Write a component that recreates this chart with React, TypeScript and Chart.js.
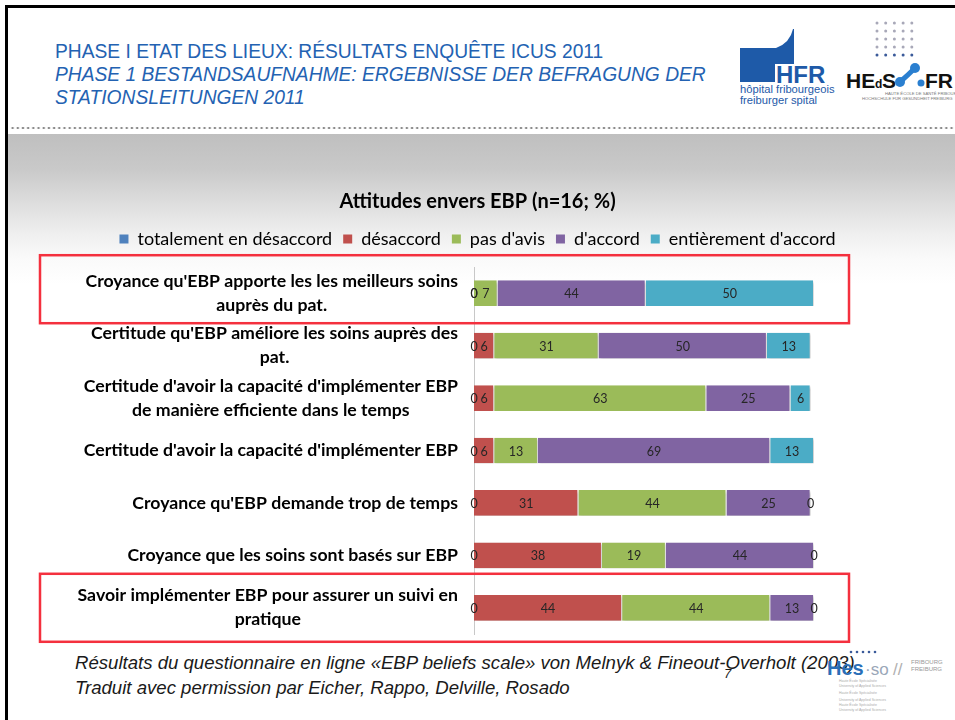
import React, { useEffect, useRef } from "react";
import { Chart, registerables } from "chart.js";

Chart.register(...registerables);

// ---------- data ----------
const categories: string[][] = [
  ["Croyance qu'EBP apporte les les meilleurs soins", "auprès du pat."],
  ["Certitude qu'EBP améliore les soins auprès des", "pat."],
  ["Certitude d'avoir la capacité d'implémenter EBP", "de manière efficiente dans le temps"],
  ["Certitude d'avoir la capacité d'implémenter EBP"],
  ["Croyance qu'EBP demande trop de temps"],
  ["Croyance que les soins sont basés sur EBP"],
  ["Savoir implémenter EBP pour assurer un suivi en", "pratique"],
];
const seriesNames = [
  "totalement en désaccord",
  "désaccord",
  "pas d'avis",
  "d'accord",
  "entièrement d'accord",
];
const totalementEnDesaccord = [0, 0, 0, 0, 0, 0, 0];
const desaccord = [0, 6, 6, 6, 31, 38, 44];
const pasDAvis = [7, 31, 63, 13, 44, 19, 44];
const dAccord = [44, 50, 25, 69, 25, 44, 13];
const entierementDAccord = [50, 13, 6, 13, 0, 0, 0];
const seriesColors = ["#4f81bd", "#c0504d", "#9bbb59", "#8064a2", "#4bacc6"];
const highlightedRows = [0, 6];
const chartTitle = "Attitudes envers EBP (n=16; %)";

const FONT = "Lato, 'Open Sans', sans-serif";

// ---------- plugins ----------
const barDecor = {
  id: "barDecor",
  beforeDatasetsDraw(chart: any) {
    const ctx = chart.ctx;
    ctx.save();
    ctx.shadowColor = "rgba(0,0,0,0.28)";
    ctx.shadowBlur = 3;
    ctx.shadowOffsetX = 1;
    ctx.shadowOffsetY = 1.5;
  },
  afterDatasetsDraw(chart: any) {
    const ctx = chart.ctx;
    ctx.restore();
    ctx.save();
    ctx.font = `12.5px ${FONT}`;
    ctx.fillStyle = "#262626";
    ctx.textAlign = "center";
    ctx.textBaseline = "middle";
    chart.data.datasets.forEach((ds: any, di: number) => {
      const meta = chart.getDatasetMeta(di);
      meta.data.forEach((el: any, i: number) => {
        const p = el.getProps(["x", "base", "y"], true);
        ctx.fillText(String(ds.data[i]), (p.x + p.base) / 2, p.y + 1);
      });
    });
    ctx.restore();
  },
};

const categoryLabels = {
  id: "categoryLabels",
  afterDraw(chart: any) {
    const ctx = chart.ctx;
    const ys = chart.scales.y;
    const right = chart.chartArea.left - 16;
    ctx.save();
    ctx.font = `bold 17.7px ${FONT}`;
    ctx.fillStyle = "#000";
    ctx.textAlign = "center";
    ctx.textBaseline = "middle";
    categories.forEach((lines, i) => {
      const cy = ys.getPixelForValue(i);
      const maxW = Math.max(...lines.map((l) => ctx.measureText(l).width));
      const cx = right - maxW / 2;
      const lh = 24;
      lines.forEach((l, j) => {
        ctx.fillText(l, cx, cy + (j - (lines.length - 1) / 2) * lh);
      });
    });
    ctx.restore();
  },
};

const highlightBoxes = {
  id: "highlightBoxes",
  afterDraw(chart: any) {
    const ctx = chart.ctx;
    const ys = chart.scales.y;
    const ca = chart.chartArea;
    ctx.save();
    ctx.strokeStyle = "#f4303e";
    ctx.lineWidth = 2.5;
    highlightedRows.forEach((r, k) => {
      const cy = ys.getPixelForValue(r);
      const above = k === 0 ? 38 : 34;
      const below = k === 0 ? 30 : 34;
      const left = ca.left - 434;
      const right = ca.right + 35;
      ctx.strokeRect(left, cy - above, right - left, above + below);
    });
    ctx.restore();
  },
};

function BarChart() {
  const ref = useRef<HTMLCanvasElement | null>(null);
  useEffect(() => {
    if (!ref.current) return;
    const values = [totalementEnDesaccord, desaccord, pasDAvis, dAccord, entierementDAccord];
    const chart = new Chart(ref.current, {
      type: "bar",
      data: {
        labels: categories.map((c) => c.join(" ")),
        datasets: values.map((v, i) => ({
          label: seriesNames[i],
          data: v,
          backgroundColor: seriesColors[i],
          borderColor: "#ffffff",
          borderWidth: { top: 0, bottom: 0, left: 0, right: 1 },
          borderSkipped: false,
          barPercentage: 0.49,
          categoryPercentage: 1,
        })),
      },
      options: {
        indexAxis: "y",
        responsive: false,
        animation: false,
        events: [],
        layout: { padding: { top: 0, bottom: 11, left: 0, right: 0 } },
        scales: {
          x: {
            type: "linear",
            stacked: true,
            min: 0,
            max: 101,
            position: "top",
            grid: { display: false },
            border: { display: false },
            ticks: { display: false },
            afterFit: (s: any) => {
              s.height = 9;
            },
          },
          y: {
            type: "category",
            stacked: true,
            position: "left",
            grid: { display: false },
            border: { display: true, color: "#c8c8c8", width: 1 },
            ticks: { display: false },
            afterFit: (s: any) => {
              s.width = 474;
            },
          },
          yRight: {
            type: "category",
            position: "right",
            grid: { display: false },
            border: { display: false },
            ticks: { display: false },
            afterFit: (s: any) => {
              s.width = 141;
            },
          },
        },
        plugins: {
          title: {
            display: true,
            text: chartTitle,
            color: "#000",
            font: { family: FONT, size: 20, weight: "bold" },
            padding: { top: 15, bottom: 5 },
          },
          legend: {
            display: true,
            position: "top",
            labels: {
              boxWidth: 9,
              boxHeight: 9,
              padding: 11,
              color: "#000",
              font: { family: FONT, size: 18 },
              generateLabels: (c: any) =>
                c.data.datasets.map((ds: any, i: number) => ({
                  text: ds.label,
                  fillStyle: ds.backgroundColor,
                  strokeStyle: ds.backgroundColor,
                  lineWidth: 0,
                  hidden: false,
                  datasetIndex: i,
                  fontColor: "#000",
                })),
            },
          },
          tooltip: { enabled: false },
        },
      },
      plugins: [barDecor, categoryLabels, highlightBoxes],
    } as any);
    return () => chart.destroy();
  }, []);
  return (
    <canvas
      ref={ref}
      width={955}
      height={470}
      style={{ position: "absolute", left: 0, top: 175, width: 955, height: 470 }}
    />
  );
}

export default function App() {
  const blue = "#2362b2";
  const arial = "'Liberation Sans', Arial, sans-serif";
  return (
    <div
      style={{
        position: "absolute",
        left: 0,
        top: 0,
        width: 955,
        height: 720,
        overflow: "hidden",
        background: "#fff",
      }}
    >
      {/* gray gradient band */}
      <div
        style={{
          position: "absolute",
          left: 8,
          top: 134,
          width: 947,
          height: 586,
          background:
            "linear-gradient(to bottom, #bfbfbf 0px, #c9c9c9 35px, #dedede 70px, #efefef 100px, #fafafa 125px, #ffffff 150px)",
        }}
      />
      {/* frame */}
      <div
        style={{
          position: "absolute",
          left: 5,
          top: 5,
          width: 980,
          height: 740,
          borderLeft: "3px solid #000",
          borderTop: "3px solid #000",
        }}
      />
      {/* dotted separator */}
      <div
        style={{
          position: "absolute",
          left: 10,
          top: 126,
          width: 945,
          height: 4,
          backgroundImage: "radial-gradient(circle, #8c8c8c 1.1px, transparent 1.5px)",
          backgroundSize: "5.2px 4px",
        }}
      />
      {/* header */}
      <div
        style={{
          position: "absolute",
          left: 55,
          top: 40,
          color: blue,
          fontFamily: arial,
          fontSize: 19.5,
          lineHeight: "23px",
          whiteSpace: "nowrap",
          transform: "scaleX(0.985)",
          transformOrigin: "0 0",
        }}
      >
        <div>PHASE I ETAT DES LIEUX: RÉSULTATS ENQUÊTE ICUS 2011</div>
        <div style={{ fontStyle: "italic" }}>
          PHASE 1 BESTANDSAUFNAHME: ERGEBNISSE DER BEFRAGUNG DER
        </div>
        <div style={{ fontStyle: "italic" }}>STATIONSLEITUNGEN 2011</div>
      </div>
      {/* logos */}
      <svg
        width={225}
        height={110}
        viewBox="0 0 225 110"
        style={{ position: "absolute", left: 730, top: 15 }}
      >
        <path d="M10,33 L46,33 Q60,28 63,14 L64,14 L64,49 L45,49 L45,67 L10,67 Z" fill="#1e5aa8" />
        <text x="46" y="68" fill="#1e5aa8" fontFamily={arial} fontWeight="bold" fontSize="24">
          HFR
        </text>
        <text x="10" y="78" fill="#1e5aa8" fontFamily={arial} fontSize="11.2">
          hôpital fribourgeois
        </text>
        <text x="10" y="89" fill="#1e5aa8" fontFamily={arial} fontSize="11.2">
          freiburger spital
        </text>
        {[0, 1, 2, 3, 4].map((r) =>
          [0, 1, 2, 3, 4].map((c) => (
            <circle
              key={`${r}-${c}`}
              cx={147 + c * 8.7}
              cy={8 + r * 8}
              r={1.5}
              fill={r === 4 ? "#3a5a9a" : "#a8a8b8"}
            />
          ))
        )}
        <text x="116" y="73" fill="#111" fontFamily={arial} fontWeight="bold" fontSize="21">
          HE
        </text>
        <text x="145" y="73" fill="#111" fontFamily={arial} fontWeight="bold" fontSize="12">
          d
        </text>
        <text x="152" y="73" fill="#111" fontFamily={arial} fontWeight="bold" fontSize="21">
          S
        </text>
        <path d="M170,67 Q178,60 184,54" stroke="#2a7fd0" strokeWidth="5" fill="none" />
        <circle cx="170" cy="67" r="5" fill="#2a7fd0" />
        <circle cx="185" cy="53" r="5" fill="#2a7fd0" />
        <circle cx="191" cy="68" r="3.5" fill="#2a7fd0" />
        <text x="195" y="73" fill="#111" fontFamily={arial} fontWeight="bold" fontSize="21">
          FR
        </text>
        <text x="155" y="80" fill="#777" fontFamily={arial} fontSize="4.2">
          HAUTE ÉCOLE DE SANTÉ FRIBOURG
        </text>
        <text x="132" y="85" fill="#777" fontFamily={arial} fontSize="4.2">
          HOCHSCHULE FÜR GESUNDHEIT FREIBURG
        </text>
      </svg>
      <BarChart />
      {/* footer */}
      <div
        style={{
          position: "absolute",
          left: 75,
          top: 649.5,
          fontFamily: arial,
          fontStyle: "italic",
          fontSize: 18.6,
          lineHeight: "25px",
          color: "#1a1a1a",
          whiteSpace: "nowrap",
        }}
      >
        <div>Résultats du questionnaire en ligne «EBP beliefs scale» von Melnyk &amp; Fineout-Overholt (2003)</div>
        <div>Traduit avec permission par Eicher, Rappo, Delville, Rosado</div>
      </div>
      <div
        style={{
          position: "absolute",
          left: 724,
          top: 666,
          fontFamily: arial,
          fontStyle: "italic",
          fontSize: 13,
          color: "#1a1a1a",
        }}
      >
        7
      </div>
      <svg
        width={130}
        height={70}
        viewBox="0 0 130 70"
        style={{ position: "absolute", left: 825, top: 648 }}
      >
        {[0, 1, 2, 3, 4].map((c) => (
          <circle key={c} cx={26 + c * 6} cy={4} r={1.3} fill="#3a5a9a" />
        ))}
        <text x="2" y="27" fill="#2a6fb8" fontFamily={arial} fontWeight="bold" fontSize="20">
          Hes
        </text>
        <text x="40" y="27" fill="#9aa7b8" fontFamily={arial} fontSize="17">
          ·so
        </text>
        <text x="68" y="27" fill="#b0b0b0" fontFamily={arial} fontSize="17">
          //
        </text>
        <text x="86" y="16" fill="#999" fontFamily={arial} fontSize="6">
          FRIBOURG
        </text>
        <text x="86" y="23" fill="#999" fontFamily={arial} fontSize="6">
          FREIBURG
        </text>
        {[34, 39, 46, 53, 58, 63].map((y, i) => (
          <text key={i} x="14" y={y} fill="#aaa" fontFamily={arial} fontSize="3.5">
            {i % 2 === 0 ? "Haute École Spécialisée" : "University of Applied Sciences"}
          </text>
        ))}
      </svg>
    </div>
  );
}
